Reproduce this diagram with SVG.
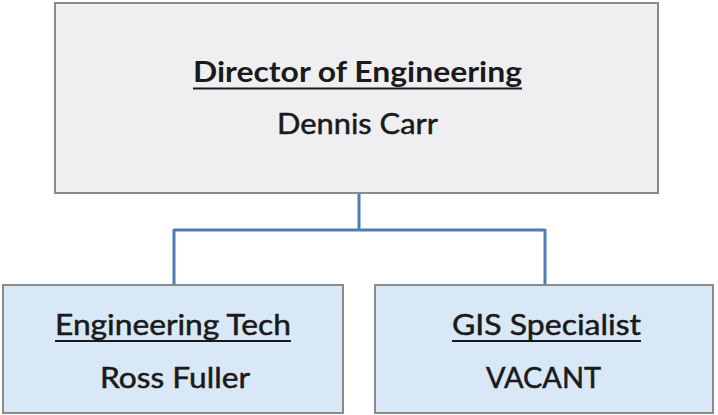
<svg xmlns="http://www.w3.org/2000/svg" width="718" height="415" viewBox="0 0 718 415">
  <style>
    .box-top { fill: #efeff1; stroke: #8a8a8a; stroke-width: 2; }
    .box-sub { fill: #d9e8f6; stroke: #8a8a8a; stroke-width: 2; }
    .title { font-family: Lato, "Liberation Sans", sans-serif; font-size: 28.5px; font-weight: bold; fill: #1a1a1a; }
    .name { font-family: Lato, "Liberation Sans", sans-serif; font-size: 28.5px; fill: #1a1a1a; stroke: #1a1a1a; stroke-width: 0.5; }
    .uline { stroke: #1a1a1a; stroke-width: 2.2; }
    .link { fill: none; stroke: #4f7cb8; stroke-width: 3; }
  </style>

  <rect width="718" height="415" fill="#ffffff"/>

  <!-- connectors -->
  <g id="connectors">
    <path class="link" d="M359,193 V230 M174,230 H545 M174,229 V285 M545,229 V285"/>
  </g>

  <!-- top position -->
  <g id="director">
    <rect class="box-top" x="55" y="3" width="603" height="190"/>
    <text class="title" x="193" y="82" textLength="329" lengthAdjust="spacingAndGlyphs">Director of Engineering</text>
    <line class="uline" x1="193" y1="88.5" x2="522" y2="88.5"/>
    <text class="name" x="277" y="134" textLength="161" lengthAdjust="spacingAndGlyphs">Dennis Carr</text>
  </g>

  <!-- left report -->
  <g id="engineering-tech">
    <rect class="box-sub" x="3" y="285" width="340" height="128"/>
    <text class="name" x="55" y="335" textLength="236" lengthAdjust="spacingAndGlyphs">Engineering Tech</text>
    <line class="uline" x1="55" y1="341" x2="291" y2="341"/>
    <text class="name" x="100" y="388" textLength="150" lengthAdjust="spacingAndGlyphs">Ross Fuller</text>
  </g>

  <!-- right report -->
  <g id="gis-specialist">
    <rect class="box-sub" x="375" y="285" width="338" height="128"/>
    <text class="name" x="452" y="335" textLength="189" lengthAdjust="spacingAndGlyphs">GIS Specialist</text>
    <line class="uline" x1="452" y1="341" x2="641" y2="341"/>
    <text class="name" x="486" y="388" textLength="115" lengthAdjust="spacingAndGlyphs">VACANT</text>
  </g>
</svg>
